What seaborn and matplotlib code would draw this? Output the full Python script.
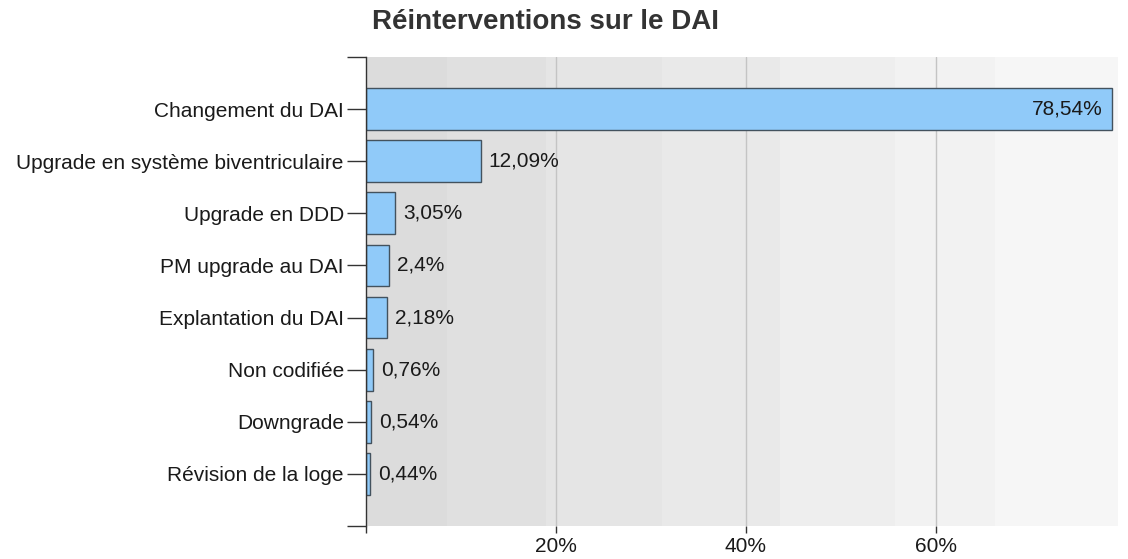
import numpy as np
import pandas as pd
import seaborn as sns
import matplotlib.pyplot as plt

# === données ===
categories = [
    "Changement du DAI",
    "Upgrade en système biventriculaire",
    "Upgrade en DDD",
    "PM upgrade au DAI",
    "Explantation du DAI",
    "Non codifiée",
    "Downgrade",
    "Révision de la loge",
]
valeurs = [78.54, 12.09, 3.05, 2.4, 2.18, 0.76, 0.54, 0.44]
etiquettes = ["78,54%", "12,09%", "3,05%", "2,4%", "2,18%", "0,76%", "0,54%", "0,44%"]
xticks = [20, 40, 60]
xtick_labels = ["20%", "40%", "60%"]

df = pd.DataFrame({"categorie": categories, "valeur": valeurs})

sns.set_style("white")
plt.rcParams["font.family"] = ["Liberation Sans", "DejaVu Sans"]

fig = plt.figure(figsize=(11.28, 5.59), dpi=100)
ax = fig.add_axes([366 / 1128, 33 / 559, 752 / 1128, 469 / 559])

# fond en bandes de gris (dégradé)
bandes = [0, 8.5, 19, 31.2, 43.6, 55.7, 66.2, 79.2]
gris = ["#dcdcdc", "#e0e0e0", "#e5e5e5", "#e9e9e9", "#eeeeee", "#f2f2f2", "#f6f6f6"]
for i in range(len(gris)):
    ax.axvspan(bandes[i], bandes[i + 1], color=gris[i], zorder=0, lw=0)

for x in xticks:
    ax.axvline(x, color="#c4c4c4", lw=1, zorder=1)

sns.barplot(
    data=df,
    y="categorie",
    x="valeur",
    orient="h",
    color="#90caf9",
    edgecolor="#43525e",
    linewidth=1,
    width=0.8,
    saturation=1,
    ax=ax,
    zorder=2,
)

for i, (v, lab) in enumerate(zip(valeurs, etiquettes)):
    if v > 50:
        ax.text(v - 1, i, lab, ha="right", va="center", fontsize=15, color="#1a1a1a", zorder=3)
    else:
        ax.text(v + 0.85, i, lab, ha="left", va="center", fontsize=15, color="#1a1a1a", zorder=3)

ax.set_xlim(0, 79.2)
ax.set_ylim(8, -1)
ax.set_yticks(range(-1, 9))
ax.set_yticklabels([""] + categories + [""], fontsize=15, color="#1a1a1a")
ax.set_xticks([0] + xticks)
ax.set_xticklabels([""] + xtick_labels, fontsize=15, color="#1a1a1a")
ax.set_xlabel("")
ax.set_ylabel("")

for s in ["top", "right", "bottom"]:
    ax.spines[s].set_visible(False)
ax.spines["left"].set_color("#333333")
ax.spines["left"].set_linewidth(1)
ax.tick_params(axis="y", length=14, width=1, color="#333333", left=True, pad=2)
ax.tick_params(axis="x", length=5, width=1, color="#333333", bottom=True, pad=3)

fig.text(372 / 1128, 1 - 22 / 559, "Réinterventions sur le DAI", fontsize=20,
         fontweight="bold", color="#333333", ha="left", va="center")

fig.savefig("out.png", dpi=100, facecolor="white")
